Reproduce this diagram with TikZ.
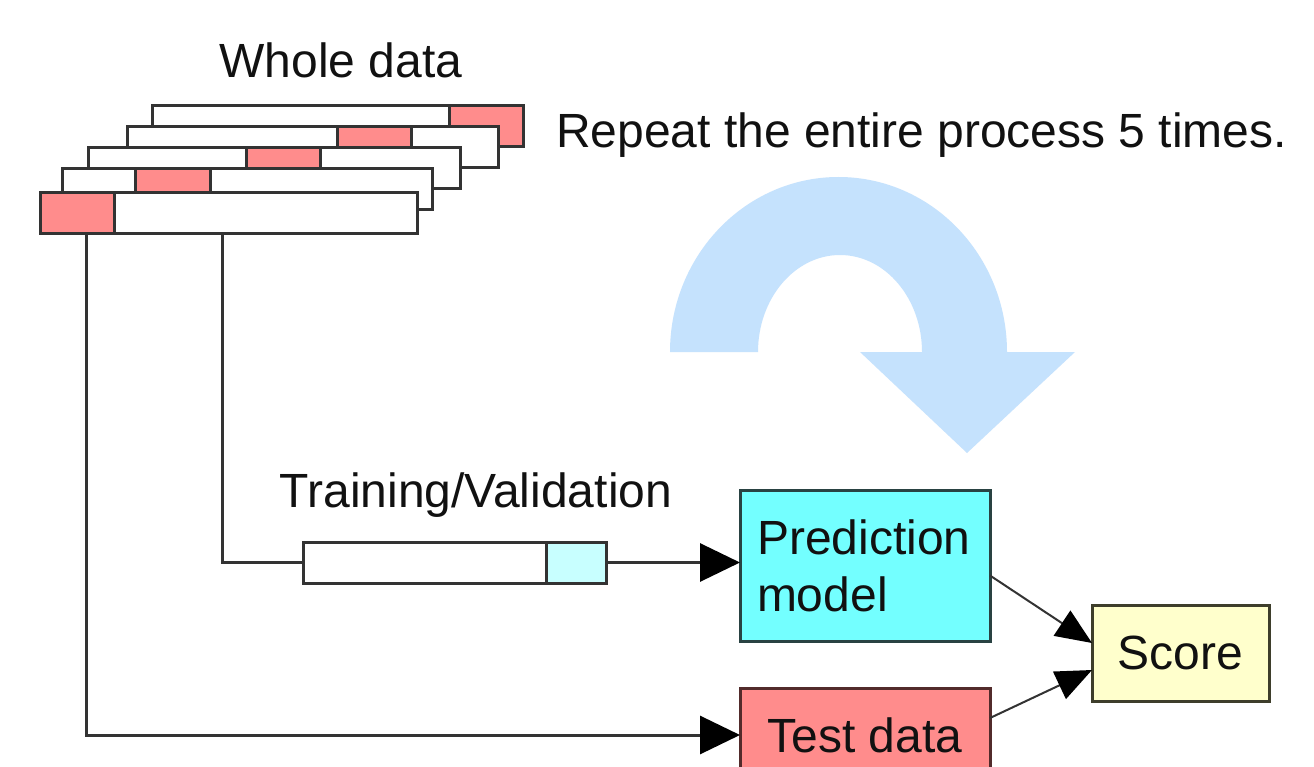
\documentclass[tikz,border=0pt]{standalone}
\usepackage{fontspec}
\setmainfont{Liberation Sans}
\usetikzlibrary{arrows.meta,calc}
\definecolor{cellred}{RGB}{255,140,140}
\definecolor{edge}{RGB}{51,51,51}
\definecolor{loopblue}{RGB}{197,226,253}
\definecolor{modelcyan}{RGB}{115,255,255}
\definecolor{valcyan}{RGB}{200,255,255}
\definecolor{scoreyellow}{RGB}{255,255,204}
\definecolor{txt}{RGB}{17,17,17}

\begin{document}
\begin{tikzpicture}[x=1pt,y=1pt,
  every node/.style={font=\fontsize{48}{57}\selectfont, text=txt, inner sep=0pt, outer sep=0pt},
  strip/.style={draw=edge, line width=3pt, fill=white, anchor=north west, minimum height=41pt},
  cell/.style={draw=edge, line width=3pt, fill=cellred, anchor=north west, minimum height=41pt},
  box/.style={draw=edge, line width=3pt, anchor=north west},
  wire/.style={draw=edge, line width=3pt},
  bigtip/.style={-{Triangle[length=40pt,width=38pt,black]}},
  thin wire/.style={draw=edge, line width=2pt, -{Triangle[length=36pt,width=30pt,black]}}
]
\clip (0,0) rectangle (1314,-767);
\fill[white] (0,0) rectangle (1314,-767);

% stacked folds of the whole data set, back to front
\node[strip, minimum width=371pt] (s1) at (152,-106) {};
\node[cell,  minimum width=74pt]  (r1) at (449,-106) {};
\node[strip, minimum width=371pt] (s2) at (127,-127) {};
\node[cell,  minimum width=74pt]  (r2) at (337,-127) {};
\node[strip, minimum width=372pt] (s3) at (88,-148) {};
\node[cell,  minimum width=74pt]  (r3) at (246,-148) {};
\node[strip, minimum width=370pt] (s4) at (62,-169) {};
\node[cell,  minimum width=75pt]  (r4) at (135,-169) {};
\node[strip, minimum width=377pt] (s5) at (40,-193) {};
\node[cell,  minimum width=74pt]  (r5) at (40,-193) {};

\node (whole) at (341,-60) {Whole data};
\node[anchor=west] (repeat) at (556,-135) {Repeat the entire process 5 times.};

% repeat loop arrow
\fill[loopblue] (670,-352) arc[start angle=180,end angle=0,x radius=168.5,y radius=175]
  -- (1075,-352) -- (967,-453) -- (860,-352) -- (922,-352)
  arc[start angle=0,end angle=180,x radius=82,y radius=97] -- cycle;

% training / validation split
\node (tvlabel) at (476,-495) {Training/Validation};
\node[strip, minimum width=243pt] (tv) at (303,-542) {};
\node[box, fill=valcyan, minimum width=60pt, minimum height=41pt] (tvc) at (546,-542) {};

% model, test data and score
\node[box, fill=modelcyan, draw=edge!80!teal, minimum width=250pt, minimum height=151pt,
      text width=216pt, align=left] (pm) at (740,-490) {Prediction\\model};
\node[box, fill=cellred, draw=edge!85!red, minimum width=250pt, minimum height=94pt] (td) at (740,-688) {Test data};
\node[box, fill=scoreyellow, draw=edge!85!olive, minimum width=177pt, minimum height=96pt] (sc) at (1092,-605) {Score};

% connectors
\coordinate (testdrop) at (86,-234);
\coordinate (tvdrop) at (222,-234);
\draw[wire, bigtip] (testdrop) |- (td.west);
\draw[wire] (tvdrop) |- (tv.west);
\draw[wire, bigtip] (tvc.east) -- (tvc.east -| pm.west);
\draw[thin wire] ($(pm.east)+(0,-10)$) -- ($(sc.west)+(0,10)$);
\draw[thin wire] ($(td.east)+(0,17)$) -- ($(sc.west)+(0,-17)$);
\end{tikzpicture}
\end{document}
